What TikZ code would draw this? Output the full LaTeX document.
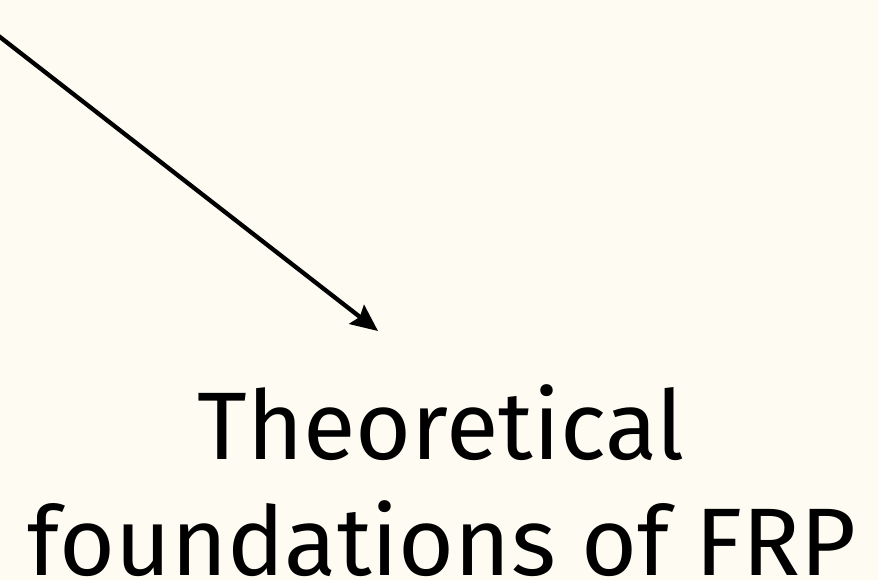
\documentclass[tikz,border=0pt]{standalone}
\usepackage{fontspec}
\setmainfont{Fira Sans}
\usetikzlibrary{arrows.meta}
\definecolor{bgcream}{RGB}{254,251,243}
\tikzset{
  arrowline/.style={line width=4.3bp, -{Stealth[length=27bp,width=24bp,inset=4bp]}},
  bigtext/.style={font=\fontsize{96bp}{113bp}\selectfont, inner sep=0pt, anchor=base, text=black}
}
\begin{document}
\begin{tikzpicture}[x=1bp,y=-1bp]
  \useasboundingbox (0,0) rectangle (878,580);
  \fill[bgcream] (0,0) rectangle (878,580);
  \clip (0,0) rectangle (878,580);
  \coordinate (s) at (-12,27.7);
  \coordinate (e) at (378,331);
  \node[bigtext] (t1) at (441,459) {Theoretical};
  \node[bigtext] (t2) at (442,575) {foundations of FRP};
  \draw[arrowline] (s) -- (e);
\end{tikzpicture}
\end{document}
